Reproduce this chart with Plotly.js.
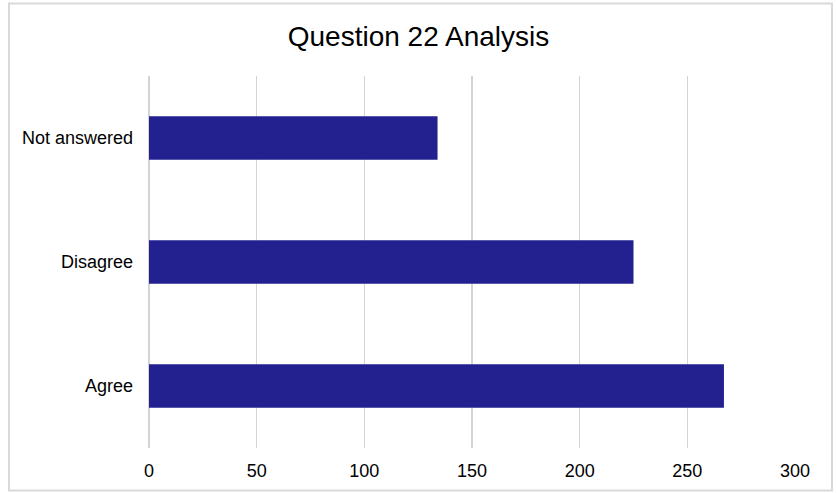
<!DOCTYPE html>
<html>
<head>
<meta charset="utf-8">
<script src="https://cdn.plot.ly/plotly-3.0.1.min.js"></script>
<style>html,body{margin:0;padding:0;background:#fff;}#chart{width:837px;height:493px;}</style>
</head>
<body>
<div id="chart"></div>
<script>
const categories = ["Agree", "Disagree", "Not answered"];
const counts = [267, 225, 134];
const xTicks = [0, 50, 100, 150, 200, 250, 300];
const chartTitle = "Question 22 Analysis";

const L = 149, R = 42, T = 76, B = 45, W = 837, H = 493;
const pw = W - L - R, ph = H - T - B;
const px = x => (x - L) / pw;
const py = y => (H - B - y) / ph;

Plotly.newPlot("chart", [{
  type: "bar",
  orientation: "h",
  y: categories,
  x: counts,
  marker: {color: "#22218F"},
  hoverinfo: "x+y"
}], {
  width: W, height: H,
  margin: {l: L, r: R, t: T, b: B, pad: 0},
  paper_bgcolor: "#fff",
  plot_bgcolor: "#fff",
  bargap: 0.65,
  showlegend: false,
  font: {family: "Liberation Sans, Arial, sans-serif", color: "#000"},
  title: {text: chartTitle, x: 0.5, xref: "container", xanchor: "center", y: 1 - 36/H, yref: "container", yanchor: "middle", font: {size: 28, color: "#000"}},
  xaxis: {
    range: [0, 300], tickvals: xTicks, ticktext: xTicks.map(String),
    showgrid: true, gridcolor: "#d4d4d4", gridwidth: 1.5,
    zeroline: true, zerolinecolor: "#d4d4d4", zerolinewidth: 1.5,
    showline: false, ticks: "", tickfont: {size: 18, color: "#000"}, ticklabelstandoff: 10, fixedrange: true
  },
  yaxis: {
    type: "category", categoryorder: "array", categoryarray: categories,
    showgrid: false, zeroline: false, showline: false, ticks: "",
    tickfont: {size: 18, color: "#000"}, ticklabelstandoff: 15, fixedrange: true
  },
  shapes: [{
    type: "rect", xref: "paper", yref: "paper",
    x0: px(9), x1: px(832), y0: py(490.5), y1: py(3.5),
    line: {color: "#d9d9d9", width: 2}, fillcolor: "rgba(0,0,0,0)", layer: "below"
  }]
}, {displayModeBar: false, staticPlot: true});
</script>
</body>
</html>
